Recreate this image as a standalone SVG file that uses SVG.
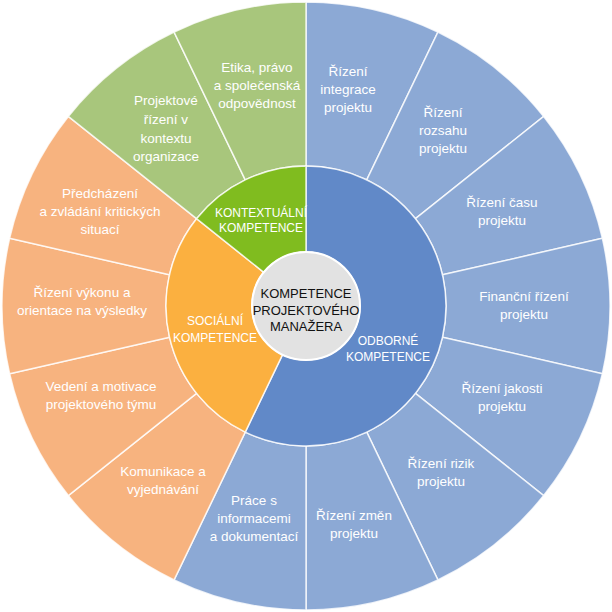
<svg xmlns="http://www.w3.org/2000/svg" width="612" height="612" viewBox="0 0 612 612">
<style>
.seg{stroke:#ffffff;stroke-opacity:0.8;stroke-width:1.5;stroke-linejoin:round}
.ob{fill:#8CA9D5}
.oo{fill:#F7B37F}
.og{fill:#A8C67C}
.lbl{font-family:"Liberation Sans",Arial,sans-serif;font-size:13.5px;fill:#ffffff;text-anchor:middle}
.ilbl{font-family:"Liberation Sans",Arial,sans-serif;font-size:12px;fill:#ffffff;text-anchor:middle}
.clbl{font-family:"Liberation Sans",Arial,sans-serif;font-size:13px;fill:#111111;text-anchor:middle}
</style>
<rect width="612" height="612" fill="#ffffff"/>
<g id="outer-ring">
<g id="n-integrace"><path class="seg ob" d="M306,2 A304,304 0 0 1 437.90,32.11 L366.74,179.86 A140,140 0 0 0 306,166 Z"/>
<text class="lbl"><tspan x="348" y="76">Řízení</tspan><tspan x="348" y="94">integrace</tspan><tspan x="348" y="112">projektu</tspan></text></g>
<g id="n-rozsah"><path class="seg ob" d="M437.90,32.11 A304,304 0 0 1 543.68,116.46 L415.46,218.71 A140,140 0 0 0 366.74,179.86 Z"/>
<text class="lbl"><tspan x="443" y="117">Řízení</tspan><tspan x="443" y="135">rozsahu</tspan><tspan x="443" y="153">projektu</tspan></text></g>
<g id="n-cas"><path class="seg ob" d="M543.68,116.46 A304,304 0 0 1 602.38,238.35 L442.49,274.85 A140,140 0 0 0 415.46,218.71 Z"/>
<text class="lbl"><tspan x="502" y="207">Řízení času</tspan><tspan x="502" y="225">projektu</tspan></text></g>
<g id="n-financni"><path class="seg ob" d="M602.38,238.35 A304,304 0 0 1 602.38,373.65 L442.49,337.15 A140,140 0 0 0 442.49,274.85 Z"/>
<text class="lbl"><tspan x="524" y="301">Finanční řízení</tspan><tspan x="524" y="319">projektu</tspan></text></g>
<g id="n-jakost"><path class="seg ob" d="M602.38,373.65 A304,304 0 0 1 543.68,495.54 L415.46,393.29 A140,140 0 0 0 442.49,337.15 Z"/>
<text class="lbl"><tspan x="502" y="393">Řízení jakosti</tspan><tspan x="502" y="411">projektu</tspan></text></g>
<g id="n-rizika"><path class="seg ob" d="M543.68,495.54 A304,304 0 0 1 437.90,579.89 L366.74,432.14 A140,140 0 0 0 415.46,393.29 Z"/>
<text class="lbl"><tspan x="441" y="468">Řízení rizik</tspan><tspan x="441" y="486">projektu</tspan></text></g>
<g id="n-zmeny"><path class="seg ob" d="M437.90,579.89 A304,304 0 0 1 306,610 L306,446 A140,140 0 0 0 366.74,432.14 Z"/>
<text class="lbl"><tspan x="354" y="520">Řízení změn</tspan><tspan x="354" y="538">projektu</tspan></text></g>
<g id="n-informace"><path class="seg ob" d="M306,610 A304,304 0 0 1 174.10,579.89 L245.26,432.14 A140,140 0 0 0 306,446 Z"/>
<text class="lbl"><tspan x="254" y="505">Práce s</tspan><tspan x="254" y="523">informacemi</tspan><tspan x="254" y="541">a dokumentací</tspan></text></g>
<g id="n-komunikace"><path class="seg oo" d="M174.10,579.89 A304,304 0 0 1 68.32,495.54 L196.54,393.29 A140,140 0 0 0 245.26,432.14 Z"/>
<text class="lbl"><tspan x="163" y="476">Komunikace a</tspan><tspan x="163" y="494">vyjednávání</tspan></text></g>
<g id="n-vedeni"><path class="seg oo" d="M68.32,495.54 A304,304 0 0 1 9.62,373.65 L169.51,337.15 A140,140 0 0 0 196.54,393.29 Z"/>
<text class="lbl"><tspan x="101" y="391">Vedení a motivace</tspan><tspan x="101" y="409">projektového týmu</tspan></text></g>
<g id="n-vykon"><path class="seg oo" d="M9.62,373.65 A304,304 0 0 1 9.62,238.35 L169.51,274.85 A140,140 0 0 0 169.51,337.15 Z"/>
<text class="lbl"><tspan x="82" y="297">Řízení výkonu a</tspan><tspan x="82" y="315">orientace na výsledky</tspan></text></g>
<g id="n-krize"><path class="seg oo" d="M9.62,238.35 A304,304 0 0 1 68.32,116.46 L196.54,218.71 A140,140 0 0 0 169.51,274.85 Z"/>
<text class="lbl"><tspan x="100" y="198">Předcházení</tspan><tspan x="100" y="216">a zvládání kritických</tspan><tspan x="100" y="234">situací</tspan></text></g>
<g id="n-organizace"><path class="seg og" d="M68.32,116.46 A304,304 0 0 1 174.10,32.11 L245.26,179.86 A140,140 0 0 0 196.54,218.71 Z"/>
<text class="lbl"><tspan x="166" y="105">Projektové</tspan><tspan x="166" y="124">řízení v</tspan><tspan x="166" y="143">kontextu</tspan><tspan x="166" y="161">organizace</tspan></text></g>
<g id="n-etika"><path class="seg og" d="M174.10,32.11 A304,304 0 0 1 306,2 L306,166 A140,140 0 0 0 245.26,179.86 Z"/>
<text class="lbl"><tspan x="257" y="72">Etika, právo</tspan><tspan x="257" y="90">a společenská</tspan><tspan x="257" y="108">odpovědnost</tspan></text></g>
</g>
<g id="inner-ring">
<g id="n-odborne"><path class="seg" fill="#6189C8" stroke-opacity="1" d="M306,166 A140,140 0 1 1 245.26,432.14 L282.57,354.65 A54,54 0 1 0 306,252 Z"/>
<text class="ilbl"><tspan x="388" y="345">ODBORNÉ</tspan><tspan x="388" y="361">KOMPETENCE</tspan></text></g>
<g id="n-socialni"><path class="seg" fill="#FBB040" stroke-opacity="1" d="M245.26,432.14 A140,140 0 0 1 196.54,218.71 L263.78,272.33 A54,54 0 0 0 282.57,354.65 Z"/>
<text class="ilbl"><tspan x="215" y="325">SOCIÁLNÍ</tspan><tspan x="215" y="342">KOMPETENCE</tspan></text></g>
<g id="n-kontextualni"><path class="seg" fill="#80BC1F" stroke-opacity="1" d="M196.54,218.71 A140,140 0 0 1 306,166 L306,252 A54,54 0 0 0 263.78,272.33 Z"/>
<text class="ilbl"><tspan x="261" y="217">KONTEXTUÁLNÍ</tspan><tspan x="261" y="232">KOMPETENCE</tspan></text></g>
</g>
<g id="n-center">
<circle cx="306" cy="306" r="54" fill="#E2E2E2" stroke="#ffffff" stroke-width="2"/>
<text class="clbl"><tspan x="306" y="298">KOMPETENCE</tspan><tspan x="306" y="315">PROJEKTOVÉHO</tspan><tspan x="306" y="331">MANAŽERA</tspan></text>
</g>
<g id="connectors"/>
</svg>
